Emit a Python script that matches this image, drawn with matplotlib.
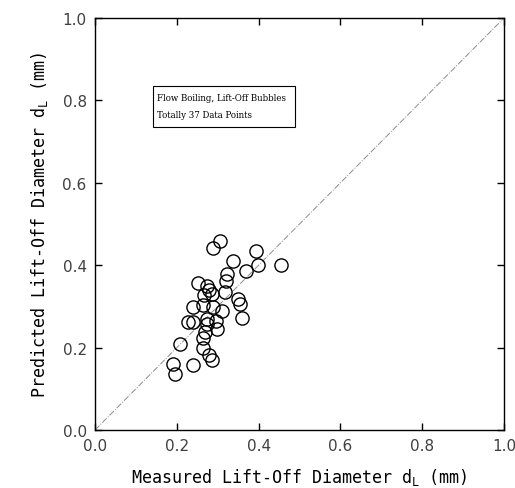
import matplotlib
matplotlib.use("Agg")
import matplotlib.pyplot as plt
from matplotlib.patches import Rectangle

# measured vs predicted lift-off diameter (mm)
measured = [0.306, 0.289, 0.394, 0.337, 0.399, 0.455, 0.369, 0.323, 0.320, 0.252,
            0.274, 0.279, 0.286, 0.267, 0.318, 0.350, 0.355, 0.240, 0.264, 0.289,
            0.310, 0.359, 0.227, 0.240, 0.274, 0.274, 0.296, 0.298, 0.269, 0.264,
            0.264, 0.279, 0.286, 0.208, 0.191, 0.196, 0.240]
predicted = [0.459, 0.442, 0.434, 0.410, 0.400, 0.400, 0.386, 0.379, 0.362, 0.357,
             0.350, 0.340, 0.330, 0.328, 0.335, 0.318, 0.306, 0.299, 0.303, 0.299,
             0.289, 0.272, 0.262, 0.262, 0.269, 0.257, 0.265, 0.245, 0.238, 0.223,
             0.199, 0.182, 0.170, 0.209, 0.160, 0.136, 0.158]
ticks = [0.0, 0.2, 0.4, 0.6, 0.8, 1.0]
note = ['Flow Boiling, Lift-Off Bubbles', 'Totally 37 Data Points']

fig = plt.figure(figsize=(5.15, 4.89), dpi=100)
ax = fig.add_axes([0.1845, 0.1186, 0.7941, 0.8425])

ax.plot([0, 1], [0, 1], color='0.55', lw=0.7, ls='-.')
ax.plot(measured, predicted, ls='none', marker='o', ms=9.5, mfc='none',
        mec='black', mew=1.0)

ax.set_xlim(0, 1)
ax.set_ylim(0, 1)
ax.set_xticks(ticks)
ax.set_yticks(ticks)
ax.set_xticklabels(['%.1f' % t for t in ticks])
ax.set_yticklabels(['%.1f' % t for t in ticks])
ax.tick_params(direction='in', length=5, width=1, top=True, right=True,
               labelsize=11, labelcolor='0.25', pad=6)
for s in ax.spines.values():
    s.set_linewidth(1.0)

lab = dict(family='DejaVu Sans Mono', fontsize=12)
ax.set_xlabel(r'Measured Lift-Off Diameter d$_\mathregular{L}$ (mm)', labelpad=9, **lab)
ax.set_ylabel(r'Predicted Lift-Off Diameter d$_\mathregular{L}$ (mm)', labelpad=9, **lab)

# note box
ax.add_patch(Rectangle((0.142, 0.735), 0.347, 0.10, transform=ax.transAxes,
                       fc='white', ec='black', lw=0.8, zorder=3))
for line, yy in zip(note, [0.808, 0.767]):
    ax.text(0.152, yy, line, family='DejaVu Serif', fontstretch='condensed',
            fontsize=6.9, va='center', ha='left', transform=ax.transAxes, zorder=4)

fig.savefig('out.png', dpi=100)
